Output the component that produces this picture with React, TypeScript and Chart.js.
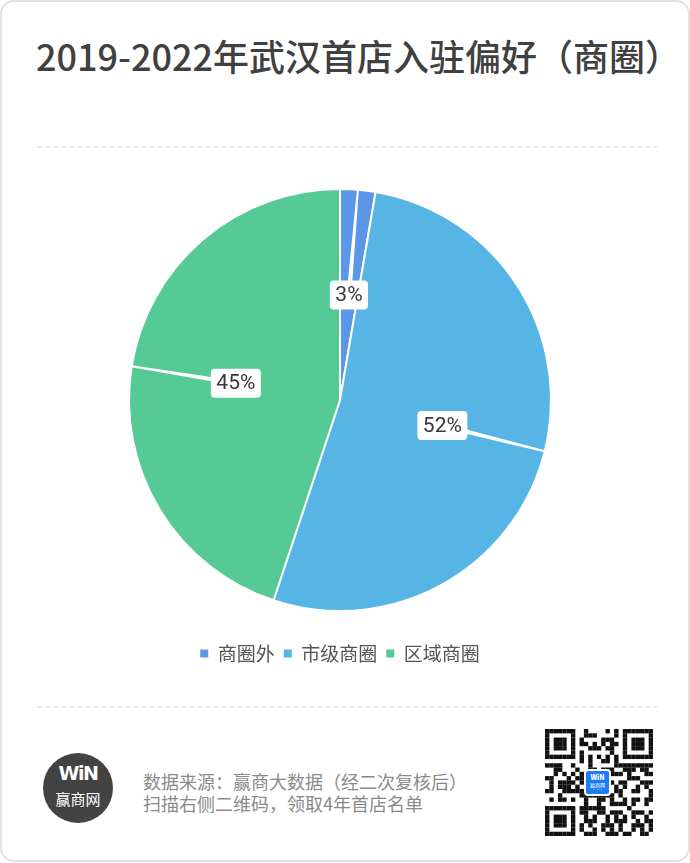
import React, { useEffect, useRef } from 'react';
import { Chart, registerables } from 'chart.js';

Chart.register(...registerables);

const TITLE = '2019-2022年武汉首店入驻偏好（商圈）';
const categories = ['商圈外', '市级商圈', '区域商圈'];
const shares = [2.7, 52.4, 44.9];
const colors = ['#5b96e7', '#56b5e4', '#55ca95'];
const sourceLines = ['数据来源：赢商大数据（经二次复核后）', '扫描右侧二维码，领取4年首店名单'];

const CJK = '"Noto Sans CJK SC", "Noto Sans", sans-serif';

const insideLabels = {
  id: 'insideLabels',
  afterDatasetsDraw(chart: any) {
    const ctx = chart.ctx as CanvasRenderingContext2D;
    const meta = chart.getDatasetMeta(0);
    const data = chart.data.datasets[0].data as number[];
    const total = data.reduce((a, b) => a + b, 0);
    const items = meta.data.map((arc: any, i: number) => {
      const p = arc.getProps(['x', 'y', 'startAngle', 'endAngle', 'outerRadius'], true);
      const mid = (p.startAngle + p.endAngle) / 2;
      return {
        ex: p.x + Math.cos(mid) * p.outerRadius,
        ey: p.y + Math.sin(mid) * p.outerRadius,
        lx: p.x + Math.cos(mid) * p.outerRadius * 0.5,
        ly: p.y + Math.sin(mid) * p.outerRadius * 0.5,
        text: Math.round((data[i] / total) * 100) + '%',
      };
    });
    ctx.save();
    ctx.fillStyle = '#ffffff';
    for (const it of items) {
      const dx = it.ex - it.lx;
      const dy = it.ey - it.ly;
      const len = Math.hypot(dx, dy) || 1;
      const nx = -dy / len;
      const ny = dx / len;
      const w0 = 2.4;
      const w1 = 1.0;
      ctx.beginPath();
      ctx.moveTo(it.lx + nx * w0, it.ly + ny * w0);
      ctx.lineTo(it.ex + nx * w1, it.ey + ny * w1);
      ctx.lineTo(it.ex - nx * w1, it.ey - ny * w1);
      ctx.lineTo(it.lx - nx * w0, it.ly - ny * w0);
      ctx.closePath();
      ctx.fill();
    }
    ctx.font = '21px Roboto, "Liberation Sans", sans-serif';
    ctx.textAlign = 'center';
    ctx.textBaseline = 'middle';
    for (const it of items) {
      const tw = ctx.measureText(it.text).width;
      const bw = tw + 11;
      const bh = 29;
      ctx.fillStyle = '#ffffff';
      ctx.beginPath();
      (ctx as any).roundRect(it.lx - bw / 2, it.ly - bh / 2, bw, bh, 4);
      ctx.fill();
      ctx.fillStyle = '#383838';
      ctx.fillText(it.text, it.lx, it.ly + 1);
    }
    ctx.restore();
  },
};

function PieChart() {
  const ref = useRef<HTMLCanvasElement | null>(null);
  useEffect(() => {
    if (!ref.current) return;
    const chart = new Chart(ref.current, {
      type: 'pie',
      data: {
        labels: categories,
        datasets: [
          {
            data: shares,
            backgroundColor: colors,
            borderColor: '#ffffff',
            borderWidth: 2,
          },
        ],
      },
      options: {
        responsive: false,
        animation: false,
        radius: 211,
        layout: { padding: { right: 14 } },
        plugins: {
          tooltip: { enabled: false },
          legend: {
            position: 'bottom',
            labels: {
              boxWidth: 8,
              boxHeight: 8,
              padding: 9,
              color: '#555555',
              font: { size: 19, family: CJK },
              generateLabels: (c: any) => {
                const base = (Chart as any).overrides.doughnut.plugins.legend.labels.generateLabels(c);
                return base.map((it: any) => ({ ...it, lineWidth: 0, strokeStyle: 'rgba(0,0,0,0)' }));
              },
            },
          },
        },
      } as any,
      plugins: [insideLabels],
    });
    return () => chart.destroy();
  }, []);
  return (
    <canvas
      ref={ref}
      width={690}
      height={508}
      style={{ position: 'absolute', left: 0, top: 163, width: 690, height: 508 }}
    />
  );
}

function DashedLine({ top }: { top: number }) {
  return (
    <svg style={{ position: 'absolute', left: 35, top: top, width: 620, height: 2 }} width={620} height={2}>
      <line x1={0} y1={1} x2={620} y2={1} stroke="#d0d0d0" strokeWidth={1} strokeDasharray="5 3" />
    </svg>
  );
}

function QRCode() {
  const N = 25;
  const cells: JSX.Element[] = [];
  const inFinder = (r: number, c: number) => {
    const fs = [
      [0, 0],
      [0, N - 7],
      [N - 7, 0],
    ];
    for (const [fr, fc] of fs) {
      if (r >= fr - 1 && r <= fr + 7 && c >= fc - 1 && c <= fc + 7) {
        const rr = r - fr;
        const cc = c - fc;
        if (rr < 0 || cc < 0 || rr > 6 || cc > 6) return 0;
        if (rr === 0 || rr === 6 || cc === 0 || cc === 6) return 1;
        if (rr >= 2 && rr <= 4 && cc >= 2 && cc <= 4) return 1;
        return 0;
      }
    }
    return -1;
  };
  for (let r = 0; r < N; r++) {
    for (let c = 0; c < N; c++) {
      const f = inFinder(r, c);
      let on: boolean;
      if (f >= 0) on = f === 1;
      else if (r === 6) on = c % 2 === 0;
      else if (c === 6) on = r % 2 === 0;
      else on = ((r * 7 + c * 11 + ((r * c) % 5) + ((r ^ c) & 3)) % 5) < 2 || ((r + 2 * c) % 7 === 0);
      if (on) cells.push(<rect key={r + '-' + c} x={c} y={r} width={1.02} height={1.02} fill="#111" />);
    }
  }
  return (
    <div style={{ position: 'absolute', left: 543, top: 727, width: 108, height: 107 }}>
      <svg width={108} height={107} viewBox={`0 0 ${N} ${N}`} preserveAspectRatio="none" style={{ display: 'block' }}>
        {cells}
      </svg>
      <div
        style={{
          position: 'absolute',
          left: 39,
          top: 40,
          width: 27,
          height: 27,
          boxSizing: 'border-box',
          border: '2px solid #fff',
          borderRadius: 4,
          background: '#1c7cf4',
          color: '#fff',
          textAlign: 'center',
          fontFamily: CJK,
        }}
      >
        <div style={{ fontSize: 7, fontWeight: 900, lineHeight: '9px', marginTop: 2 }}>WiN</div>
        <div style={{ fontSize: 5, lineHeight: '6px' }}>赢商网</div>
        <div style={{ fontSize: 4, lineHeight: '5px' }}>···</div>
      </div>
    </div>
  );
}

export default function App() {
  return (
    <div
      style={{
        position: 'absolute',
        left: 0,
        top: 0,
        width: 690,
        height: 862,
        boxSizing: 'border-box',
        border: '2px solid #e2e2e2',
        borderRadius: 14,
        background: '#fff',
        overflow: 'hidden',
        fontFamily: CJK,
      }}
    >
      <div
        style={{
          position: 'absolute',
          left: 34,
          top: 35,
          fontSize: 36,
          lineHeight: '36px',
          color: '#404040',
          fontWeight: 500,
          whiteSpace: 'nowrap',
        }}
      >
        {TITLE}
      </div>
      <DashedLine top={144} />
      <PieChart />
      <DashedLine top={704} />
      <div
        style={{
          position: 'absolute',
          left: 41,
          top: 751,
          width: 70,
          height: 70,
          borderRadius: '50%',
          background: '#424242',
          color: '#fff',
          textAlign: 'center',
        }}
      >
        <div
          style={{
            position: 'absolute',
            left: 0,
            right: 0,
            top: 8,
            fontSize: 19,
            lineHeight: '24px',
            fontWeight: 900,
            fontFamily: '"DejaVu Sans", sans-serif',
            letterSpacing: -1.5,
          }}
        >
          WiN
        </div>
        <div style={{ position: 'absolute', left: 0, right: 0, top: 37, fontSize: 15, lineHeight: '18px' }}>赢商网</div>
      </div>
      <div
        style={{
          position: 'absolute',
          left: 141,
          top: 768,
          fontSize: 18,
          lineHeight: '22px',
          color: '#8a8a8a',
          whiteSpace: 'nowrap',
        }}
      >
        {sourceLines.map((l) => (
          <div key={l}>{l}</div>
        ))}
      </div>
      <QRCode />
    </div>
  );
}
